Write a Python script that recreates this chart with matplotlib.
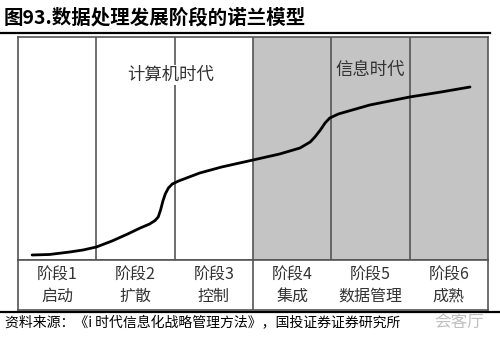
import numpy as np
import matplotlib
matplotlib.use('Agg')
import matplotlib.pyplot as plt

plt.rcParams['font.family'] = ['Noto Sans CJK SC', 'DejaVu Sans']

# 诺兰模型曲线（按阶段单位读取）
curve_x = [0.18, 0.40, 0.66, 0.83, 1.00, 1.20, 1.40, 1.56, 1.68, 1.75, 1.79, 1.82,
           1.85, 1.88, 1.92, 1.97, 2.05, 2.32, 2.60, 3.00, 3.34, 3.60, 3.73, 3.79,
           3.86, 3.92, 3.98, 4.09, 4.20, 4.49, 5.00, 5.40, 5.77]
curve_y = [5.0, 5.5, 8.0, 10.0, 13.0, 19.0, 26.0, 32.0, 36.0, 39.5, 43.0, 50.0,
           59.0, 66.0, 72.0, 76.0, 79.0, 87.0, 93.0, 100.0, 106.0, 112.0, 118.0, 123.0,
           130.0, 137.0, 142.0, 146.0, 148.5, 155.0, 163.0, 168.0, 173.0]

stage_names = ['阶段1', '阶段2', '阶段3', '阶段4', '阶段5', '阶段6']
stage_desc = ['启动', '扩散', '控制', '集成', '数据管理', '成熟']
eras = ['计算机时代', '信息时代']

W, H = 500, 345
fig = plt.figure(figsize=(5, 3.45), dpi=100)

def fx(px):
    return px / W

def fy(py):
    return 1 - py / H

line_col = '#555555'

ax = fig.add_axes([fx(18), fy(260), fx(488) - fx(18), fy(37) - fy(260)])
ax.set_xlim(0, 6)
ax.set_ylim(0, 223)
ax.axvspan(3, 6, color='#c4c4c4', zorder=0)
for i in range(1, 6):
    ax.axvline(i, color=line_col, lw=1.2, zorder=1)
ax.plot(curve_x, curve_y, color='black', lw=2.0, zorder=3,
        solid_capstyle='round', solid_joinstyle='round')
ax.text(1.95, 185, eras[0], ha='center', va='center', fontsize=12.5, color='#333333',
        zorder=4, bbox=dict(facecolor='white', edgecolor='none', pad=1.0))
ax.text(4.5, 190, eras[1], ha='center', va='center', fontsize=12.5, color='#333333', zorder=4)
ax.set_xticks([])
ax.set_yticks([])
for s in ax.spines.values():
    s.set_color(line_col)
    s.set_linewidth(1.2)

lab = fig.add_axes([fx(18), fy(310), fx(488) - fx(18), fy(260) - fy(310)])
lab.set_xlim(0, 6)
lab.set_ylim(0, 1)
lab.axvline(3, color=line_col, lw=1.2)
for i, (n, d) in enumerate(zip(stage_names, stage_desc)):
    lab.text(i + 0.5, 0.70, n, ha='center', va='center', fontsize=11.5, color='#333333')
    lab.text(i + 0.5, 0.28, d, ha='center', va='center', fontsize=11.5, color='#333333')
lab.set_xticks([])
lab.set_yticks([])
for s in lab.spines.values():
    s.set_color(line_col)
    s.set_linewidth(1.2)

fig.text(fx(4), fy(18), '图93.数据处理发展阶段的诺兰模型', ha='left', va='center',
         fontsize=14, fontweight='bold', color='black')
fig.add_artist(plt.Line2D([0, fx(490)], [fy(33), fy(33)], color='black', lw=1.6))
fig.add_artist(plt.Line2D([0, 1], [fy(312), fy(312)], color='black', lw=1.6))
fig.text(fx(484), fy(323), '会客厅', ha='right', va='center', fontsize=12, color='#c0c0c0')
fig.text(fx(5), fy(323), '资料来源：《i 时代信息化战略管理方法》，国投证券证券研究所',
         ha='left', va='center', fontsize=10, style='italic', color='black')

fig.savefig('out.png', dpi=100)
